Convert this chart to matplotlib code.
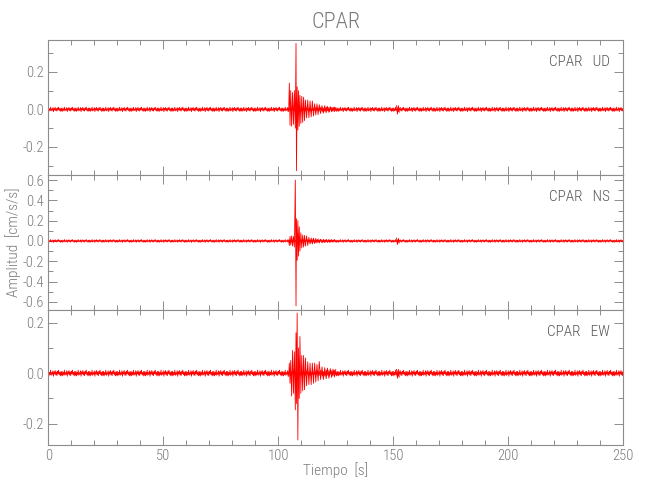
import numpy as np
import matplotlib
matplotlib.use('Agg')
import matplotlib.pyplot as plt
from matplotlib.ticker import MultipleLocator, FormatStrFormatter

plt.rcParams['font.family'] = ['Roboto Condensed', 'DejaVu Sans']
plt.rcParams['font.stretch'] = 'condensed'
plt.rcParams['font.weight'] = 'light'

# ---------------- data ----------------
station = 'CPAR'
components = ['UD', 'NS', 'EW']
duration = 250.0
sample_step = 0.25
y_limits = [(-0.35, 0.37), (-0.68, 0.65), (-0.284, 0.25)]
y_major = [0.2, 0.2, 0.2]

# background noise levels (cm/s/s)
noise_level = [0.012, 0.014, 0.012]
# hand-typed normalised noise shape (repeated along the record)
noise_shape = [0.6, -0.9, 0.3, -0.5, 1.0, -0.7, 0.2, -0.4, 0.8, -1.0, 0.5, -0.3,
               0.9, -0.6, 0.4, -0.8, 0.7, -0.2, 1.0, -0.5, 0.3, -0.9, 0.6, -0.7]

# read extrema of the strong-motion part (s)
event_t = [104.5, 104.8, 105.1, 105.4, 105.8, 106.2, 106.6, 107.0, 107.4, 107.7,
           107.9, 108.2, 108.5, 108.8, 109.1, 109.4, 109.8, 110.2, 110.6, 111.0,
           111.4, 111.8, 112.3, 112.8, 113.3, 113.8, 114.3, 114.8, 115.3, 115.8,
           116.3, 116.8, 117.3, 117.8, 118.4, 119.0, 119.6, 120.2, 120.8, 121.4,
           122.0, 122.6, 123.2, 123.8, 124.4, 125.0,
           151.4, 151.8, 152.2, 152.6]
ud_event = [-0.01, 0.14, -0.085, 0.10, -0.09, 0.09, -0.08, 0.10, -0.10, 0.352,
            -0.327, 0.12, -0.11, 0.10, -0.09, 0.075, -0.075, 0.07, -0.07, 0.065,
            -0.06, 0.05, -0.045, 0.05, -0.045, 0.045, -0.04, 0.045, -0.035, 0.03,
            -0.03, 0.03, -0.028, 0.025, -0.022, 0.02, -0.02, 0.02, -0.018, 0.016,
            -0.016, 0.015, -0.013, 0.012, -0.012, 0.01,
            0.02, -0.025, 0.02, -0.015]
ns_event = [0.01, -0.045, 0.045, -0.04, 0.05, -0.05, 0.045, -0.06, 0.60, -0.64,
            0.22, -0.19, 0.20, -0.15, 0.14, -0.10, 0.08, -0.07, 0.06, -0.06,
            0.055, -0.05, 0.05, -0.045, 0.035, -0.03, 0.03, -0.03, 0.028, -0.025,
            0.025, -0.02, 0.02, -0.02, 0.018, -0.018, 0.016, -0.015, 0.015, -0.014,
            0.013, -0.012, 0.012, -0.011, 0.01, -0.01,
            0.03, -0.035, 0.025, -0.02]
ew_event = [-0.012, 0.04, -0.04, 0.05, -0.09, 0.09, -0.08, 0.085, -0.145, 0.16,
            -0.12, 0.238, -0.264, 0.10, -0.10, 0.145, -0.08, 0.07, -0.07, 0.07,
            -0.065, 0.06, -0.05, 0.045, -0.045, 0.04, -0.045, 0.04, -0.04, 0.04,
            -0.035, 0.035, -0.03, 0.046, -0.025, 0.025, -0.025, 0.022, -0.022, 0.02,
            -0.02, 0.018, -0.017, 0.016, -0.015, 0.015,
            0.015, -0.02, 0.015, -0.015]
events = [ud_event, ns_event, ew_event]

# ---------------- figure ----------------
fig = plt.figure(figsize=(6.5, 5), dpi=100)
W, H = 650.0, 500.0
left_px, right_px = 48.3, 623.3
tops_px = [40, 175, 310]
h_px = 135

gray = '#8c8c8c'
text_gray = '#7a7a7a'
red = '#ff0000'

t_noise = np.arange(0, duration + sample_step / 2, sample_step)

for i, comp in enumerate(components):
    ax = fig.add_axes([left_px / W, 1 - (tops_px[i] + h_px) / H,
                       (right_px - left_px) / W, h_px / H])
    noise = noise_level[i] * np.resize(np.array(noise_shape), t_noise.size)
    ax.plot(t_noise, noise, color=red, lw=0.6)
    ax.plot(event_t[:46], events[i][:46], color=red, lw=0.6)
    ax.plot(event_t[46:], events[i][46:], color=red, lw=0.6)

    ax.set_xlim(0, duration)
    ax.set_ylim(*y_limits[i])
    ax.xaxis.set_major_locator(MultipleLocator(50))
    ax.xaxis.set_minor_locator(MultipleLocator(10))
    ax.yaxis.set_major_locator(MultipleLocator(y_major[i]))
    ax.yaxis.set_minor_locator(MultipleLocator(0.1))
    ax.yaxis.set_major_formatter(FormatStrFormatter('%.1f'))
    ax.tick_params(which='both', direction='in', top=True, right=True,
                   color=gray, width=0.7, labelcolor=text_gray, labelsize=10.5)
    ax.tick_params(which='major', length=6.5, pad=3)
    ax.tick_params(which='minor', length=3.6)
    for s in ax.spines.values():
        s.set_color(gray)
        s.set_linewidth(0.8)
    if i < 2:
        ax.tick_params(labelbottom=False)
    ax.annotate(f'{station}   {comp}', xy=(1, 1), xycoords='axes fraction',
                xytext=(-9.6, -18.7), textcoords='offset points',
                ha='right', va='baseline', fontsize=11, color='#555555')

cx = (left_px + right_px) / 2 / W
fig.text(cx, 1 - 22 / H, station, ha='center', va='center', fontsize=16,
         color=text_gray)
fig.text(cx, 1 - 470 / H, 'Tiempo  [s]', ha='center', va='center', fontsize=11,
         color=text_gray)
fig.text(13 / W, 1 - 242.5 / H, 'Amplitud  [cm/s/s]', ha='center', va='center',
         rotation=90, fontsize=11, color=text_gray)

fig.savefig('out.png', dpi=100)
